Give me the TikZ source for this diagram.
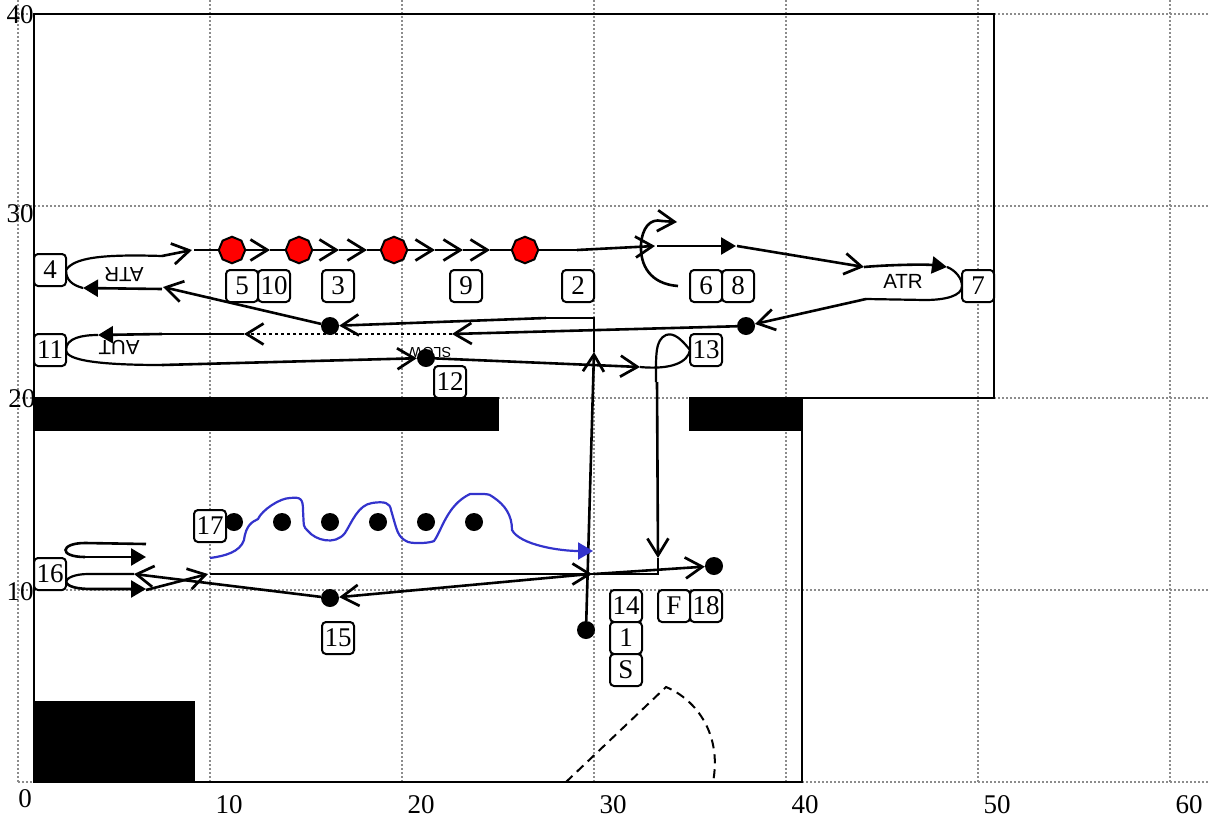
\documentclass[tikz,border=0pt]{standalone}
\usepackage{fontspec}
\setmainfont{Liberation Serif}
\setsansfont{Liberation Sans}
\usetikzlibrary{arrows.meta,shapes.geometric}
\definecolor{gridc}{HTML}{8C8C8C}
\definecolor{bluec}{HTML}{3333CC}
\tikzset{
  griddot/.style={draw=gridc,line width=1.6pt,dash pattern=on 1.7pt off 2.3pt},
  wall/.style={draw=black,line width=2.6pt},
  block/.style={fill=black,draw=none},
  lab/.style={draw=black,fill=white,rounded corners=4pt,line width=2pt,minimum size=32pt,inner sep=0pt,font=\fontsize{27}{27}\selectfont},
  axl/.style={inner sep=0pt,font=\fontsize{27}{27}\selectfont},
  dotn/.style={circle,fill=black,draw=none,minimum size=18pt,inner sep=0pt},
  stopn/.style={regular polygon,regular polygon sides=8,shape border rotate=22.5,fill=red,draw=black,line width=2pt,minimum size=26.5pt,inner sep=0pt},
  sgn/.style={inner sep=0pt,font=\sffamily\fontsize{20.5}{20.5}\selectfont},
  cb/.style={line width=2.6pt,-{Straight Barb[length=17pt,width=21pt,line width=2.7pt]}},
  cbt/.style={line width=2.2pt,-{Straight Barb[length=17pt,width=21pt,line width=2.7pt]}},
  ct/.style={line width=2.6pt,-{Triangle[length=15pt,width=17pt]}},
  cp/.style={line width=2.6pt},
  cpt/.style={line width=2.2pt},
}
\begin{document}
\begin{tikzpicture}[x=1pt,y=-1pt]
\useasboundingbox (0,0) rectangle (1210,817);
% grid
\foreach \gx in {18,210,402,594,786,978,1170}{\draw[griddot] (\gx,0) -- (\gx,782);}
\foreach \gy in {14,206,398,590,782}{\draw[griddot] (18,\gy) -- (1210,\gy);}
% axis labels
\node[axl] (y40) at (20,15) {40};
\node[axl] (y30) at (20,214) {30};
\node[axl] (y20) at (22,399) {20};
\node[axl] (y10) at (20,592) {10};
\node[axl] (x0) at (25,799) {0};
\node[axl] (x10) at (229,805) {10};
\node[axl] (x20) at (421,805) {20};
\node[axl] (x30) at (613,805) {30};
\node[axl] (x40) at (805,805) {40};
\node[axl] (x50) at (997,805) {50};
\node[axl] (x60) at (1189,805) {60};
% walls
\draw[wall] (499,398) -- (34,398) -- (34,14) -- (994,14) -- (994,398) -- (689,398);
\draw[wall] (34,398) -- (34,782) -- (802,782) -- (802,398);
\fill[block] (34,398) rectangle (499,431);
\fill[block] (689,398) rectangle (802,431);
\fill[block] (34,701) rectangle (195,782);
% door
\draw[line width=2pt,dash pattern=on 9pt off 6pt] (566,782) -- (666,687) .. controls (697,700) and (722,735) .. (713,782);
% signs
\node[sgn,rotate=180] (atra) at (124,275) {ATR};
\node[sgn,rotate=180] (auta) at (119,347) {AUT};
\node[sgn] (atrb) at (903,281) {ATR};
\node[sgn,rotate=180,font=\sffamily\fontsize{14.5}{14.5}\selectfont] (slow) at (430,352) {SLOW};
% coordinates
\coordinate (a1) at (66,270);
\coordinate (a2) at (162,256);
\coordinate (a3) at (192,250);
\coordinate (a4) at (194,250);
\coordinate (c1) at (270,250);
\coordinate (c2) at (339,250);
\coordinate (c3) at (367,250);
\coordinate (c4) at (435,250);
\coordinate (c5) at (463,250);
\coordinate (c6) at (490,250);
\coordinate (b1) at (577,250);
\coordinate (b2) at (655,246);
\coordinate (b3) at (657,246);
\coordinate (b4) at (736,246);
\coordinate (b5) at (737,246);
\coordinate (b6) at (864,267);
\coordinate (b7) at (947,267);
\coordinate (b8) at (962,286);
\coordinate (b9) at (866,299);
\coordinate (d2) at (452,334);
\coordinate (d3) at (244,334);
\coordinate (d4) at (162,334);
\coordinate (d5) at (98,335);
\coordinate (d6) at (66,350);
\coordinate (d7) at (162,365);
\coordinate (e1) at (640,367);
\coordinate (e2) at (690,350);
\coordinate (e3) at (657,382);
\coordinate (e4) at (658,558);
\coordinate (e5) at (658,574);
\coordinate (e6) at (590,574);
\coordinate (f1) at (594,352);
\coordinate (f2) at (594,318);
\coordinate (f3) at (546,318);
\coordinate (g1) at (163,287);
\coordinate (g2) at (162,289);
\coordinate (g3) at (83,288);
\coordinate (h1) at (678,286);
\coordinate (h2) at (677,222);
\coordinate (i1) at (210,574);
\coordinate (i2) at (592,574);
\coordinate (i3) at (594,574);
\coordinate (i4) at (146,590);
\coordinate (i5) at (208,574);
\coordinate (j1) at (66,582);
\coordinate (j2) at (146,589);
\coordinate (j3) at (134,574);
\coordinate (k1) at (146,544);
\coordinate (k2) at (146,557);
\coordinate (l1) at (210,558);
\coordinate (l2) at (593,551);
% points
\node[stopn] (s1) at (232,250) {};
\node[stopn] (s2) at (299,250) {};
\node[stopn] (s3) at (394,250) {};
\node[stopn] (s4) at (525,250) {};
\node[dotn] (n1) at (746,326) {};
\node[dotn] (n2) at (330,326) {};
\node[dotn] (n3) at (426,358) {};
\node[dotn] (n4) at (586,630) {};
\node[dotn] (n5) at (330,598) {};
\node[dotn] (n6) at (714,566) {};
\node[dotn] (r1) at (234,522) {};
\node[dotn] (r2) at (282,522) {};
\node[dotn] (r3) at (330,522) {};
\node[dotn] (r4) at (378,522) {};
\node[dotn] (r5) at (426,522) {};
\node[dotn] (r6) at (474,522) {};
% route
\draw[cpt] (a1) .. controls (74,258) and (100,254) .. (a2);
\draw[cb] (a2) -- (a3);
\draw[cpt] (a4) -- (s1);
\draw[cbt] (s1) -- (c1);
\draw[cpt] (c1) -- (s2);
\draw[cbt] (s2) -- (c2);
\draw[cbt] (c2) -- (c3);
\draw[cpt] (c3) -- (s3);
\draw[cbt] (s3) -- (c4);
\draw[cbt] (c4) -- (c5);
\draw[cbt] (c5) -- (c6);
\draw[cpt] (c6) -- (s4);
\draw[cpt] (s4) -- (b1);
\draw[cb] (b1) -- (b2);
\draw[ct] (b3) -- (b4);
\draw[cb] (b5) -- (b6);
\draw[ct] (b6) .. controls (885,265) and (925,264) .. (b7);
\draw[cpt] (b7) .. controls (955,270) and (962,278) .. (b8);
\draw[cpt] (b8) .. controls (962,296) and (945,300) .. (925,300) -- (b9);
\draw[cb] (b9) -- (n1);
\draw[cb] (n1) -- (d2);
\draw[cb,dash pattern=on 2.6pt off 3.4pt] (d2) -- (d3);
\draw[cp] (d3) -- (d4);
\draw[ct] (d4) -- (d5);
\draw[cpt] (d5) .. controls (82,335) and (66,338) .. (d6) .. controls (66,358) and (85,365) .. (d7);
\draw[cb] (d7) -- (n3);
\draw[cb] (n3) -- (e1);
\draw[cpt] (e1) .. controls (672,370) and (688,362) .. (e2) .. controls (682,340) and (674,332) .. (666,335) .. controls (655,340) and (656,355) .. (656,382);
\draw[cb] (e3) -- (e4);
\draw[cp] (e4) -- (e5) -- (e6);
\draw[cb] (n4) -- (f1);
\draw[cp] (f1) -- (f2) -- (f3);
\draw[cb] (f3) -- (n2);
\draw[cb] (n2) -- (g1);
\draw[ct] (g2) -- (g3);
\draw[cpt] (g3) .. controls (72,285) and (66,280) .. (a1);
\draw[cb] (h1) .. controls (650,284) and (640,265) .. (641,245) .. controls (642,228) and (650,218) .. (662,221) -- (h2);
\draw[cb] (i1) -- (i2);
\draw[cb] (i4) -- (i5);
\draw[cb] (i3) -- (n6);
\draw[cb] (e6) -- (n5);
\draw[cb] (n5) -- (j3);
\draw[cpt] (j3) -- (88,574) .. controls (75,574) and (66,578) .. (j1);
\draw[ct] (j1) .. controls (68,587) and (78,589) .. (92,589) -- (j2);
\draw[cp] (k1) -- (85,543) .. controls (60,543) and (58,557) .. (85,557);
\draw[ct] (85,557) -- (k2);
% blue route
\draw[bluec,line width=2.2pt,-{Triangle[length=15pt,width=17pt]}] (l1) .. controls (225,556) and (240,552) .. (244,540)
 .. controls (246,525) and (252,522) .. (258,519) .. controls (262,510) and (280,498) .. (290,498)
 .. controls (300,497) and (303,498) .. (303,510) .. controls (304,528) and (303,526) .. (308,531)
 .. controls (315,540) and (335,546) .. (345,533) .. controls (352,522) and (358,505) .. (372,503)
 .. controls (385,501) and (390,503) .. (391,510) .. controls (397,530) and (397,537) .. (408,542)
 .. controls (415,544) and (430,543) .. (434,541) .. controls (442,530) and (447,505) .. (470,494)
 .. controls (480,494) and (490,493) .. (493,497) .. controls (505,505) and (512,515) .. (512,530)
 .. controls (520,545) and (560,551) .. (l2);
% labels
\node[lab] (t4) at (50,270) {4};
\node[lab] (t11) at (50,350) {11};
\node[lab] (t5) at (242,286) {5};
\node[lab] (t10) at (274,286) {10};
\node[lab] (t3) at (338,286) {3};
\node[lab] (t9) at (466,286) {9};
\node[lab] (t2) at (578,286) {2};
\node[lab] (t6) at (706,286) {6};
\node[lab] (t8) at (738,286) {8};
\node[lab] (t7) at (978,286) {7};
\node[lab] (t13) at (706,350) {13};
\node[lab] (t12) at (450,382) {12};
\node[lab] (t17) at (210,526) {17};
\node[lab] (t16) at (50,574) {16};
\node[lab] (t15) at (338,638) {15};
\node[lab] (t14) at (626,606) {14};
\node[lab] (t1) at (626,638) {1};
\node[lab] (tS) at (626,670) {S};
\node[lab] (tF) at (674,606) {F};
\node[lab] (t18) at (706,606) {18};
\end{tikzpicture}
\end{document}
